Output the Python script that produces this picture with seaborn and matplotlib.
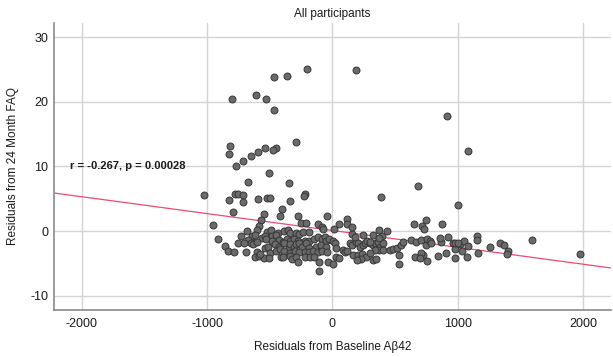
import matplotlib
matplotlib.use("Agg")
import matplotlib.pyplot as plt
import seaborn as sns
import pandas as pd

# Residuals from Baseline Abeta42 (x) and residuals from 24 Month FAQ (y)
x_vals = [
    # upper / sparse points
    -200, 191, -364, -465, -614, -532, -806, -468, 917, -293, -819, -827, -447, -471,
    -540, -596, -652, -715, -769, 1085, -508, -676, -348, 681, -1024, -779, -753, -715,
    -830, -713, -593, -524, -495, -343, -221, -226, 388, 1005,
    # dense left cluster
    -407, -793, -548, -420, -279, -572, -957, -250, -213, -117, -590, -606, -681, -519,
    -487, -436, -391, -359, -340, -292, -271, -234, -186, -80, -912, -734, -646, -617,
    -561, -537, -479, -452, -675, -654, -633, -606, -527, -481, -428, -394, -362, -338,
    -308, -279, -221, -189, -146, -114, -82, -758, -856, -710, -832, -787, -694, -604,
    -540, -511, -460, -425, -386, -351, -340, -308, -292, -266, -242, -215, -189, -128,
    -93, -500, -447, -420, -386, -340, -298, -271, -221, -189, -154, -114, -82, -620,
    -588, -548, -508, -409, -394, -340, -327, -295, -274, -221, -181, -146, -106, -580,
    -109,
    # dense middle cluster
    -43, 53, 117, 112, 157, 154, 13, -74, -61, -53, -27, 5, 24, -88, -48, -80, -43, 32,
    32, 53, -35, 5, 85, 98, 112, 138, 157, 184, 205, 218, 245, 263, 279, 298, 325, 343,
    364, 378, 404, 372, 343, 404, 165, 200, 239, 271, 298, 231, 192, 325, 351, 298, 178,
    245, 325, 372, 399, 439, 372, 458, 484, 516, 543, 564, 529, 529, 630, 670, 649, 718,
    729, 750, 710, 750, 755, 777, 790, 724, 710, 657, 697, 755, 843, 870, 878, 904, 923,
    857, 958, 976,
    # right cluster
    979, 1019, 1053, 1085, 1037, 979, 1072, 1157, 1157, 1165, 1255, 1338, 1372, 1404,
    1391, 1590, 1979, 1000,
]
y_vals = [
    25.1, 24.9, 24.0, 23.8, 21.1, 20.5, 20.4, 18.7, 17.8, 13.8, 13.1, 12.0, 12.9, 12.5,
    12.9, 12.3, 11.6, 10.9, 10.0, 12.4, 9.0, 7.6, 7.4, 7.0, 5.6, 5.7, 5.7, 5.6,
    4.8, 4.5, 4.9, 5.2, 5.2, 4.7, 5.7, 5.4, 5.3, 4.1,
    3.5, 3.0, 2.6, 2.3, 2.4, 1.7, 0.93, 1.2, 1.3, 1.1, 0.77, 0.15, 0.05, -0.1,
    0.15, -0.36, 0.05, 0.15, -0.36, -0.36, -0.52, -0.15, -0.2, 0.57, -1.24, -0.72, -0.77, -0.62,
    -1.03, -0.77, -0.72, -0.62, -1.39, -1.8, -2.0, -1.65, -1.29, -1.49, -1.39, -1.65, -1.29, -1.55,
    -1.29, -1.49, -1.49, -1.55, -1.24, -0.98, -1.29, -1.8, -2.32, -1.9, -3.09, -3.3, -3.2, -3.2,
    -2.68, -2.42, -2.06, -2.42, -1.9, -2.58, -2.06, -2.42, -2.0, -1.9, -2.42, -1.9, -2.68, -2.53,
    -2.32, -3.45, -3.09, -2.78, -3.04, -3.35, -3.04, -3.2, -3.3, -3.2, -3.04, -3.2, -2.84, -3.97,
    -3.8, -4.12, -4.23, -3.97, -4.07, -3.8, -4.38, -3.97, -4.85, -3.97, -3.97, -4.07, -4.85, -3.6,
    -6.13,
    2.4, 1.08, 1.8, 1.08, 0.67, -0.5, 0.26, 0.4, -0.98, -1.5, -1.24, -1.5, -1.8, -2.16, -2.42, -3.04, -3.3, -2.68,
    -3.97, -4.23, -4.85, -5.15, -2.94, -3.2, -3.04, -1.9, -2.16, -1.65, -1.9, -2.42, -2.16, -1.8, -1.49, -1.9, -2.16, -1.9,
    -1.65, -2.42, -1.9, -2.94, -2.94, -2.94, -3.71, -3.71, -3.56, -3.97, -3.35, -4.38, -4.48, -4.48, -4.38, -1.65, -0.88,
    -0.62, -0.62, 0.15, -0.72, 0.05, -1.13, -2.94, -2.84, -2.68, -2.16, -1.65, -3.71, -5.1, -1.39, -1.65, 1.03, 0.77,
    0.26, 1.7, -1.39, -2.16, -1.29, -1.49, -1.9, -3.71, -3.35, -3.97, -4.23, -4.59, -3.87, -1.65, 1.08, -3.35, -0.88,
    -1.13, -1.9, -2.84,
    -1.8, -2.06, -1.5, -2.32, -3.04, -4.23, -4.07, -0.77, -1.39, -3.35, -2.42, -1.9, -2.16, -3.04,
    -3.56, -1.39, -3.56, -1.9,
]

# Fit line end points (linear fit across the full x range)
fit_x = [-2223, 2223]
fit_y = [5.9, -5.7]

x_ticks = [-2000, -1000, 0, 1000, 2000]
y_ticks = [-10, 0, 10, 20, 30]

title_text = "All participants"
x_label = "Residuals from Baseline Aβ42"
y_label = "Residuals from 24 Month FAQ"
stat_text = "r = -0.267, p = 0.00028"

df = pd.DataFrame({"x": x_vals, "y": y_vals})
fit_df = pd.DataFrame({"x": fit_x, "y": fit_y})

sns.set_theme(style="white")
plt.rcParams["font.family"] = ["Liberation Sans", "DejaVu Sans"]
plt.rcParams["axes.unicode_minus"] = False

fig = plt.figure(figsize=(6.13, 3.57), dpi=100)
ax = fig.add_axes([0.0881, 0.1317, 0.9086, 0.8039])

ax.set_xlim(-2223, 2223)
ax.set_ylim(-12.2, 32.2)
ax.set_xticks(x_ticks)
ax.set_yticks(y_ticks)
ax.grid(True, color="#d4d4d4", linewidth=1.0)
ax.set_axisbelow(True)

sns.lineplot(data=fit_df, x="x", y="y", ax=ax, color="#ee4a72", linewidth=0.9, zorder=2)
sns.scatterplot(data=df, x="x", y="y", ax=ax, s=25, color="#6a6a6a",
                edgecolor="#363636", linewidth=0.7, zorder=3)

for side in ["top", "right"]:
    ax.spines[side].set_visible(False)
for side in ["left", "bottom"]:
    ax.spines[side].set_color("#8a8a8a")
    ax.spines[side].set_linewidth(1.2)

ax.tick_params(axis="both", length=0, labelsize=9, colors="#1a1a1a")
ax.tick_params(axis="x", pad=6)
ax.tick_params(axis="y", pad=4)

ax.set_xlabel(x_label, fontsize=8.5, color="#1a1a1a", labelpad=8)
ax.set_ylabel(y_label, fontsize=8.5, color="#1a1a1a", labelpad=8)
ax.set_title(title_text, fontsize=8.5, color="#1a1a1a", pad=4)

ax.text(-2095, 10, stat_text, fontsize=8, color="#1a1a1a", va="center", ha="left",
        fontweight="bold")

fig.savefig("out.png", dpi=100)
